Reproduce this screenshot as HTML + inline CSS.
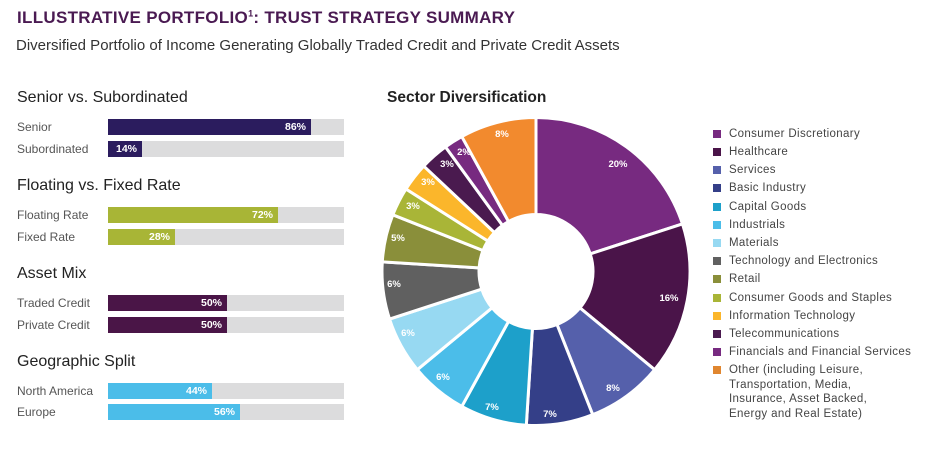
<!DOCTYPE html>
<html><head><meta charset="utf-8"><style>
body{margin:0;width:939px;height:462px;background:#fff;font-family:"Liberation Sans",sans-serif;position:relative;overflow:hidden}
.a{position:absolute;white-space:nowrap}
.t{left:17px;top:8px;font-size:17px;font-weight:bold;color:#4a1a52;letter-spacing:0.3px}
.s{left:16px;top:37px;font-size:15px;color:#333}
.h{font-size:16px;color:#222;left:17px}
.l{font-size:12px;color:#555;left:17px}
.bg{left:108px;width:236px;height:16px;background:#dcdcdd}
.b{position:absolute;left:0;top:0;height:16px;color:#fff;font-size:10.5px;font-weight:bold;text-align:right;box-sizing:border-box;padding-right:5px;line-height:16px}
.lg{left:713px;font-size:11.5px;color:#444;letter-spacing:0.35px}
.sq{position:absolute;left:0;top:3px;width:8px;height:8px}
.lg span{position:absolute;left:16px;top:0;line-height:14.5px}
</style></head><body>
<div class="a t">ILLUSTRATIVE PORTFOLIO<sup style="font-size:9px">1</sup>: TRUST STRATEGY SUMMARY</div>
<div class="a s">Diversified Portfolio of Income Generating Globally Traded Credit and Private Credit Assets</div>

<div class="a h" style="top:89px">Senior vs. Subordinated</div>
<div class="a l" style="top:120px">Senior</div>
<div class="a bg" style="top:119px"><div class="b" style="width:203px;background:#2b1c5e">86%</div></div>
<div class="a l" style="top:142px">Subordinated</div>
<div class="a bg" style="top:141px"><div class="b" style="width:34px;background:#2b1c5e">14%</div></div>

<div class="a h" style="top:177px">Floating vs. Fixed Rate</div>
<div class="a l" style="top:208px">Floating Rate</div>
<div class="a bg" style="top:207px"><div class="b" style="width:170px;background:#a8b536">72%</div></div>
<div class="a l" style="top:230px">Fixed Rate</div>
<div class="a bg" style="top:229px"><div class="b" style="width:67px;background:#a8b536">28%</div></div>

<div class="a h" style="top:265px">Asset Mix</div>
<div class="a l" style="top:296px">Traded Credit</div>
<div class="a bg" style="top:295px"><div class="b" style="width:119px;background:#4a1547">50%</div></div>
<div class="a l" style="top:318px">Private Credit</div>
<div class="a bg" style="top:317px"><div class="b" style="width:119px;background:#4a1547">50%</div></div>

<div class="a h" style="top:353px">Geographic Split</div>
<div class="a l" style="top:384px">North America</div>
<div class="a bg" style="top:383px"><div class="b" style="width:104px;background:#4bbde9">44%</div></div>
<div class="a l" style="top:405px">Europe</div>
<div class="a bg" style="top:404px"><div class="b" style="width:132px;background:#4bbde9">56%</div></div>

<div class="a h" style="top:89px;left:387px;font-weight:bold;font-size:15.5px">Sector Diversification</div>

<svg class="a" style="left:0;top:0" width="939" height="462">
<g id="pie"></g>
<g fill="#fff" font-size="9.5" font-weight="bold" font-family="Liberation Sans,sans-serif" text-anchor="middle">
<text x="618" y="167">20%</text><text x="669" y="301">16%</text><text x="613" y="391">8%</text>
<text x="550" y="417">7%</text><text x="492" y="410">7%</text><text x="443" y="380">6%</text>
<text x="408" y="336">6%</text><text x="394" y="287">6%</text><text x="398" y="241">5%</text>
<text x="413" y="209">3%</text><text x="428" y="185">3%</text><text x="447" y="167">3%</text>
<text x="464" y="155">2%</text><text x="502" y="137">8%</text>
</g>
</svg>

<div class="a lg" style="top:127px"><i class="sq" style="background:#772a80"></i><span>Consumer Discretionary</span></div>
<div class="a lg" style="top:145px"><i class="sq" style="background:#4a1449"></i><span>Healthcare</span></div>
<div class="a lg" style="top:163px"><i class="sq" style="background:#5560ab"></i><span>Services</span></div>
<div class="a lg" style="top:181px"><i class="sq" style="background:#343f88"></i><span>Basic Industry</span></div>
<div class="a lg" style="top:200px"><i class="sq" style="background:#1da0ca"></i><span>Capital Goods</span></div>
<div class="a lg" style="top:218px"><i class="sq" style="background:#4bbde9"></i><span>Industrials</span></div>
<div class="a lg" style="top:236px"><i class="sq" style="background:#97d9f2"></i><span>Materials</span></div>
<div class="a lg" style="top:254px"><i class="sq" style="background:#606060"></i><span>Technology and Electronics</span></div>
<div class="a lg" style="top:272px"><i class="sq" style="background:#8a8f3a"></i><span>Retail</span></div>
<div class="a lg" style="top:291px"><i class="sq" style="background:#a9b537"></i><span>Consumer Goods and Staples</span></div>
<div class="a lg" style="top:309px"><i class="sq" style="background:#fbb62b"></i><span>Information Technology</span></div>
<div class="a lg" style="top:327px"><i class="sq" style="background:#4a1a4f"></i><span>Telecommunications</span></div>
<div class="a lg" style="top:345px"><i class="sq" style="background:#772a80"></i><span>Financials and Financial Services</span></div>
<div class="a lg" style="top:363px"><i class="sq" style="background:#e0862f"></i><span>Other (including Leisure,<br>Transportation, Media,<br>Insurance, Asset Backed,<br>Energy and Real Estate)</span></div>

<script>
var v=[20,16,8,7,7,6,6,6,5,3,3,3,2,8];
var c=["#772a80","#4a1449","#5560ab","#343f88","#1da0ca","#4bbde9","#97d9f2","#606060","#8a8f3a","#a9b537","#fbb62b","#4a1a4f","#772a80","#f28a2e"];
var cx=536,cy=271.5,R=154,r=57,a=0,g=document.getElementById('pie'),h='';
function p(rad,ang){return [(cx+rad*Math.sin(ang)).toFixed(2),(cy-rad*Math.cos(ang)).toFixed(2)];}
for(var i=0;i<v.length;i++){var a0=a*2*Math.PI/100;a+=v[i];var a1=a*2*Math.PI/100;var L=(a1-a0)>Math.PI?1:0;
var o0=p(R,a0),o1=p(R,a1),i1=p(r,a1),i0=p(r,a0);
h+='<path d="M'+o0+'A'+R+','+R+' 0 '+L+' 1 '+o1+'L'+i1+'A'+r+','+r+' 0 '+L+' 0 '+i0+'Z" fill="'+c[i]+'" stroke="#fff" stroke-width="3"/>';}
g.innerHTML=h;
</script>
</body></html>
